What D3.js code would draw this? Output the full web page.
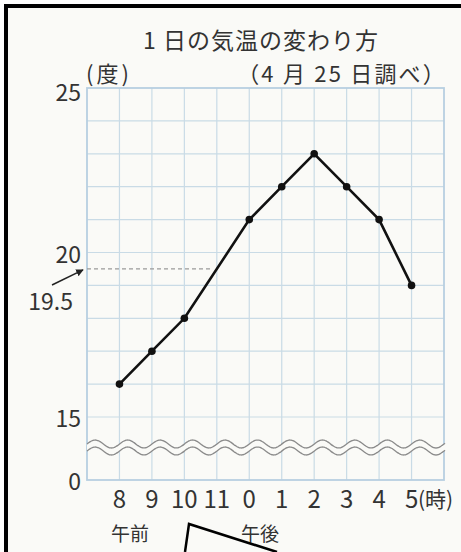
<!DOCTYPE html>
<html lang="ja">
<head>
<meta charset="UTF-8">
<title>1日の気温の変わり方</title>
<script src="https://d3js.org/d3.v7.min.js"></script>
<style>
  html, body { margin: 0; padding: 0; background: #fff; }
  text { font-family: "Noto Sans CJK JP", "Noto Sans", sans-serif; fill: #333; }
</style>
</head>
<body>
<div id="chart"></div>
<script>
// -- données --
const hours = [8, 9, 10, 12, 13, 14, 15, 16, 17];
const temps = [16, 17, 18, 21, 22, 23, 22, 21, 19];
const tickHours = [8, 9, 10, 11, 12, 13, 14, 15, 16, 17];
const tickLabels = ["8", "9", "10", "11", "0", "1", "2", "3", "4", "5"];
const yTicks = [0, 15, 20, 25];
const gridTemps = [16, 17, 18, 19, 20, 21, 22, 23, 24];
const markedTemp = 19.5;

const width = 461, height = 552;

const x = d3.scaleLinear().domain([7, 18]).range([87, 444]);
// axe coupé : 0 en bas, puis 15 à 25
const y = d3.scaleLinear().domain([0, 15, 25]).range([480, 417, 88]);

const svg = d3.select("#chart").append("svg")
    .attr("width", width)
    .attr("height", height);

// fond
svg.append("rect").attr("x", 6).attr("y", 6)
    .attr("width", width).attr("height", height)
    .attr("fill", "#fafaf7");

// -- grille --
const grid = svg.append("g").attr("stroke", "#c9dbe6").attr("stroke-width", 1.2);
grid.selectAll(".v").data(tickHours).enter().append("line")
    .attr("x1", d => x(d)).attr("x2", d => x(d))
    .attr("y1", y(25)).attr("y2", y(0));
grid.selectAll(".h").data(gridTemps).enter().append("line")
    .attr("x1", x(7)).attr("x2", x(18))
    .attr("y1", d => y(d)).attr("y2", d => y(d));
grid.append("line")
    .attr("x1", x(7)).attr("x2", x(18))
    .attr("y1", y(15)).attr("y2", y(15));

svg.append("rect")
    .attr("x", x(7)).attr("y", y(25))
    .attr("width", x(18) - x(7)).attr("height", y(0) - y(25))
    .attr("fill", "none").attr("stroke", "#b7cfe0").attr("stroke-width", 1.8);

// -- vagues de coupure --
const step = (x(8) - x(7));
const xs = d3.range(x(7), x(18) + 2, 1);
const wave = off => d3.line()
    .x(d => d)
    .y(d => off + 4 * Math.cos((d - x(8) + 8) / step * 2 * Math.PI))
    .curve(d3.curveBasis)(xs);
const area = d3.area()
    .x(d => d)
    .y0(d => 444 + 4 * Math.cos((d - x(8) + 8) / step * 2 * Math.PI))
    .y1(d => 451 + 4 * Math.cos((d - x(8) + 8) / step * 2 * Math.PI));
svg.append("path").attr("d", area(xs)).attr("fill", "#fafaf7");
[444, 451].forEach(off => {
  svg.append("path").attr("d", wave(off))
      .attr("fill", "none").attr("stroke", "#8a8a8a").attr("stroke-width", 1.3);
});

// -- ligne pointillée 19.5 --
svg.append("line")
    .attr("x1", x(7)).attr("x2", x(11) - 4)
    .attr("y1", y(markedTemp)).attr("y2", y(markedTemp))
    .attr("stroke", "#9a9a9a").attr("stroke-width", 1.3)
    .attr("stroke-dasharray", "4,3");

// flèche
svg.append("defs").append("marker")
    .attr("id", "fleche").attr("viewBox", "0 0 10 10")
    .attr("refX", 9).attr("refY", 5)
    .attr("markerWidth", 5).attr("markerHeight", 5)
    .attr("orient", "auto")
    .append("path").attr("d", "M0,0 L10,5 L0,10 z").attr("fill", "#222");
svg.append("line")
    .attr("x1", 52).attr("y1", 285).attr("x2", 83).attr("y2", y(markedTemp) + 1)
    .attr("stroke", "#222").attr("stroke-width", 1.5)
    .attr("marker-end", "url(#fleche)");

// -- courbe --
const line = d3.line().x((d, i) => x(hours[i])).y(d => y(d));
svg.append("path").datum(temps)
    .attr("d", line)
    .attr("fill", "none").attr("stroke", "#111").attr("stroke-width", 2.6);
svg.selectAll(".pt").data(temps).enter().append("circle")
    .attr("cx", (d, i) => x(hours[i])).attr("cy", d => y(d))
    .attr("r", 3.8).attr("fill", "#111");

// -- textes --
svg.append("text").attr("x", 261).attr("y", 49)
    .attr("text-anchor", "middle").attr("font-size", 23)
    .attr("letter-spacing", 1)
    .text("1 日の気温の変わり方");
svg.append("text").attr("x", 86).attr("y", 82)
    .attr("font-size", 22).attr("letter-spacing", 3).text("(度)");
svg.append("text").attr("x", 447).attr("y", 82)
    .attr("text-anchor", "end").attr("font-size", 22)
    .attr("letter-spacing", 2.2)
    .text("（4 月 25 日調べ）");

svg.selectAll(".yl").data(yTicks).enter().append("text")
    .attr("x", 81).attr("y", d => y(d) + (d === 25 ? 13 : 10))
    .attr("text-anchor", "end").attr("font-size", 23)
    .text(d => d);
svg.append("text").attr("x", 73).attr("y", 310)
    .attr("text-anchor", "end").attr("font-size", 23)
    .text("19.5");

svg.selectAll(".xl").data(tickHours).enter().append("text")
    .attr("x", d => x(d)).attr("y", 508)
    .attr("text-anchor", "middle").attr("font-size", 24)
    .text((d, i) => tickLabels[i]);
svg.append("text").attr("x", 418).attr("y", 507)
    .attr("font-size", 21).text("(時)");
svg.append("text").attr("x", 130).attr("y", 541)
    .attr("text-anchor", "middle").attr("font-size", 19).text("午前");
svg.append("text").attr("x", 260).attr("y", 541)
    .attr("text-anchor", "middle").attr("font-size", 19).text("午後");

// -- cadre et bulle --
svg.append("path").attr("d", "M6,552 V6 H461")
    .attr("fill", "none").attr("stroke", "#000").attr("stroke-width", 4);
svg.append("path").attr("d", "M185,552 L189,524 L277,552")
    .attr("fill", "none").attr("stroke", "#000").attr("stroke-width", 2.5);
</script>
</body>
</html>
